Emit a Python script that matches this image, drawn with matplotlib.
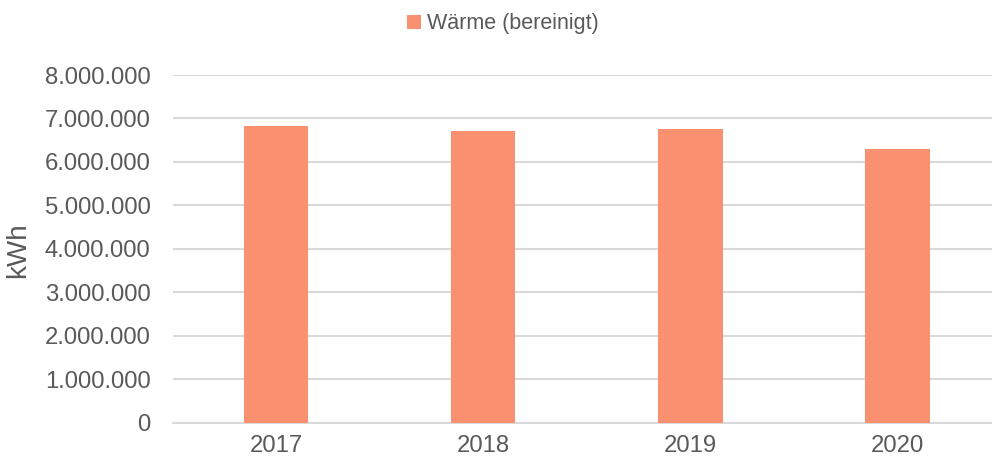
import matplotlib
matplotlib.use("Agg")
import matplotlib.pyplot as plt
from matplotlib.ticker import FuncFormatter, MultipleLocator
from matplotlib.patches import Patch

plt.rcParams['font.family'] = ['Liberation Sans', 'DejaVu Sans']

years = ["2017", "2018", "2019", "2020"]
waerme = [6830000, 6720000, 6750000, 6300000]
series_name = "Wärme (bereinigt)"

bar_color = "#F9906F"
text_color = "#595959"
grid_color = "#D9D9D9"

fig = plt.figure(figsize=(9.92, 4.61), dpi=100)
ax = fig.add_axes([172.7/992, 38.3/461, (992-172.7)/992, (422.7-75)/461])

x = list(range(len(years)))
ax.bar(x, waerme, width=0.31, color=bar_color, zorder=3)

ax.set_xlim(-0.5, 3.456)
ax.set_ylim(0, 8000000)
ax.yaxis.set_major_locator(MultipleLocator(1000000))
ax.yaxis.set_major_formatter(FuncFormatter(lambda v, p: f"{int(v):,}".replace(",", ".")))
ax.set_xticks(x)
ax.set_xticklabels(years)

ax.grid(axis='y', color=grid_color, linewidth=1.5, zorder=0)
ax.set_axisbelow(True)
for s in ["top", "right", "left"]:
    ax.spines[s].set_visible(False)
ax.spines["bottom"].set_color(grid_color)
ax.spines["bottom"].set_linewidth(1.5)

ax.tick_params(axis='y', length=0, pad=16, labelsize=17.2, labelcolor=text_color)
ax.tick_params(axis='x', length=0, pad=9, labelsize=17.2, labelcolor=text_color)

fig.text(18.5/992, 1-250/461, "kWh", rotation=90, ha='center', va='center',
         fontsize=20, color=text_color)

handle = Patch(facecolor=bar_color, edgecolor='none')
fig.legend([handle], [series_name], loc='center', bbox_to_anchor=(503/992, 1-24/461),
           frameon=False, fontsize=15.5, labelcolor=text_color,
           handlelength=0.65, handleheight=0.65, handletextpad=0.3)

fig.savefig("out.png", dpi=100)
